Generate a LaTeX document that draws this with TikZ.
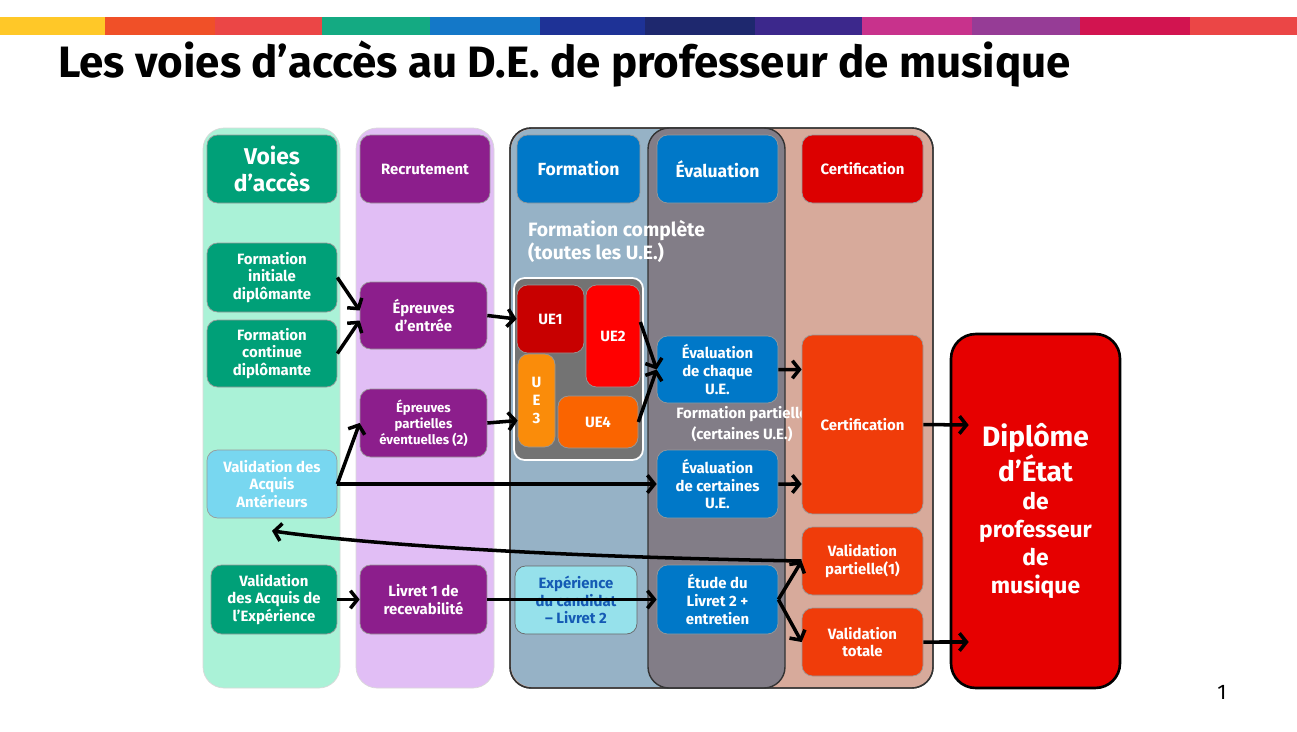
\documentclass[tikz,border=0pt]{standalone}
\usepackage{fontspec}
\setmainfont{Fira Sans}
\usetikzlibrary{arrows.meta}
\definecolor{voies}{RGB}{0, 160, 120}
\definecolor{recru}{RGB}{140, 30, 140}
\definecolor{forma}{RGB}{0, 120, 200}
\definecolor{certi}{RGB}{220, 0, 0}
\definecolor{orcert}{RGB}{240, 60, 10}
\tikzset{
    box/.style = {draw = black!40, rounded corners = 6pt, text = white, align = center,
        font = \bfseries\fontsize{8.5}{10}\selectfont, inner sep = 1pt},
    arr/.style = {line width = 2pt, -{Straight Barb[length = 4pt, width = 10pt, line width = 2pt]}},
    column/.style = {rounded corners = 12pt}
}
\begin{document}
\begin{tikzpicture}[x = 0.02cm, y = -0.02cm]
    \useasboundingbox (0,0) rectangle (1297,731);
    \fill[white] (0,0) rectangle (1297,731);

    % bandeau de couleurs
    \foreach \xa/\xb/\col in {0/105/{255,200,40}, 105/215/{240,80,40}, 215/322/{235,70,70},
        322/430/{20,170,130}, 430/540/{20,120,200}, 540/645/{30,50,150}, 645/755/{30,40,110},
        755/862/{60,40,140}, 862/972/{200,50,140}, 972/1080/{150,60,150}, 1080/1190/{210,20,80},
        1190/1297/{235,70,70}}
    {
        \definecolor{band}{RGB}{\col}
        \fill[band] (\xa,17) rectangle (\xb,35);
    }
    \node[anchor = west, font = \bfseries\fontsize{25}{30}\selectfont] (titre) at (52,64)
        {Les voies d’accès au D.E. de professeur de musique};
    \node[font = \fontsize{12}{14}\selectfont] (page) at (1222,692) {1};

    % colonnes
    \fill[column, fill = {rgb,255:red,170;green,242;blue,215}, draw = black!15] (203,128) rectangle (340,688);
    \fill[column, fill = {rgb,255:red,225;green,190;blue,245}, draw = black!15] (356,128) rectangle (494,688);
    \filldraw[column, fill = {rgb,255:red,215;green,170;blue,155}, draw = black!80, thick] (510,128) rectangle (933,688);
    \fill[column, fill = {rgb,255:red,150;green,178;blue,198}] (511,129) rectangle (785,687);
    \filldraw[column, fill = {rgb,255:red,130;green,125;blue,135}, draw = black!80, thick] (648,128) rectangle (785,688);
    \draw[column, draw = black!80, thick] (510,128) rectangle (933,688);

    % en-tetes
    \node[box, fill = voies, minimum width = 2.6cm, minimum height = 1.36cm,
        font = \bfseries\fontsize{13}{15}\selectfont] (hVoies) at (272,169) {Voies\\d’accès};
    \node[box, fill = recru, minimum width = 2.6cm, minimum height = 1.36cm] (hRecru) at (425,169) {Recrutement};
    \node[box, fill = forma, minimum width = 2.46cm, minimum height = 1.36cm,
        font = \bfseries\fontsize{10}{12}\selectfont] (hForma) at (578.5,169) {Formation};
    \node[box, fill = forma, minimum width = 2.42cm, minimum height = 1.36cm,
        font = \bfseries\fontsize{10}{12}\selectfont] (hEval) at (717.5,169) {Évaluation};
    \node[box, fill = certi, minimum width = 2.42cm, minimum height = 1.36cm] (hCerti) at (862.5,169) {Certification};

    % voies d'acces
    \node[box, fill = voies, minimum width = 2.6cm, minimum height = 1.38cm] (initiale) at (272,277.5) {Formation\\initiale\\diplômante};
    \node[box, fill = voies, minimum width = 2.6cm, minimum height = 1.34cm] (continue) at (272,353.5) {Formation\\continue\\diplômante};
    \node[box, fill = {rgb,255:red,120;green,215;blue,240}, minimum width = 2.6cm, minimum height = 1.36cm] (vaa) at (272,484) {Validation des\\Acquis\\Antérieurs};
    \node[box, fill = voies, minimum width = 2.52cm, minimum height = 1.38cm] (vae) at (274,599.5) {Validation\\des Acquis de\\l’Expérience};

    % recrutement
    \node[box, fill = recru, minimum width = 2.54cm, minimum height = 1.34cm] (entree) at (423.5,315.5) {Épreuves\\d’entrée};
    \node[box, fill = recru, minimum width = 2.54cm, minimum height = 1.36cm,
        font = \bfseries\fontsize{7.5}{9}\selectfont] (partielles) at (423.5,423) {Épreuves\\partielles\\éventuelles (2)};
    \node[box, fill = recru, minimum width = 2.54cm, minimum height = 1.38cm] (livret1) at (423.5,599.5) {Livret 1 de\\recevabilité};

    % formation
    \node[anchor = north west, align = left, text = white, font = \bfseries\fontsize{11}{13}\selectfont] (complete) at (522,214)
        {Formation complète\\(toutes les U.E.)};
    \node[box, fill = black!55, draw = white, line width = 1pt, minimum width = 2.58cm, minimum height = 3.64cm] (ueBox) at (578.5,369) {};
    \node[box, fill = {rgb,255:red,200;green,0;blue,0}, minimum width = 1.34cm, minimum height = 1.36cm] (ue1) at (550.5,319) {UE1};
    \node[box, fill = red, minimum width = 1.08cm, minimum height = 2.04cm] (ue2) at (613,336) {UE2};
    \node[box, fill = {rgb,255:red,250;green,140;blue,10}, minimum width = 0.74cm, minimum height = 1.86cm] (ue3) at (536.5,400.5) {U\\E\\3};
    \node[box, fill = {rgb,255:red,250;green,100;blue,0}, minimum width = 1.6cm, minimum height = 1.04cm] (ue4) at (598,422) {UE4};
    \node[box, fill = {rgb,255:red,150;green,225;blue,235}, draw = black!60, text = {rgb,255:red,20;green,90;blue,180},
        minimum width = 2.44cm, minimum height = 1.36cm] (experience) at (576,600) {Expérience\\du candidat\\– Livret 2};

    % evaluation
    \node[box, fill = forma, minimum width = 2.42cm, minimum height = 1.34cm] (evChaque) at (717.5,369.5) {Évaluation\\de chaque\\U.E.};
    \node[text = white, align = center, font = \bfseries\fontsize{8.5}{12}\selectfont] (partielle) at (742,424) {Formation partielle\\(certaines U.E.)};
    \node[box, fill = forma, minimum width = 2.42cm, minimum height = 1.36cm] (evCertaines) at (717.5,484) {Évaluation\\de certaines\\U.E.};
    \node[box, fill = forma, minimum width = 2.42cm, minimum height = 1.38cm] (etude) at (717.5,599.5) {Étude du\\Livret 2 +\\entretien};

    % certification
    \node[box, fill = orcert, minimum width = 2.42cm, minimum height = 3.58cm] (certif) at (862.5,424.5) {Certification};
    \node[box, fill = orcert, minimum width = 2.42cm, minimum height = 1.36cm] (valPartielle) at (862.5,561) {Validation\\partielle(1)};
    \node[box, fill = orcert, minimum width = 2.42cm, minimum height = 1.36cm] (valTotale) at (862.5,642) {Validation\\totale};
    \node[box, fill = {rgb,255:red,230;green,0;blue,0}, draw = black, line width = 1.5pt, rounded corners = 14pt,
        minimum width = 3.38cm, minimum height = 7.08cm, font = \bfseries\fontsize{13}{16}\selectfont] (diplome) at (1035.5,511)
        {{\fontsize{16}{19}\selectfont Diplôme}\\{\fontsize{16}{19}\selectfont d’État}\\de\\professeur\\de\\musique};

    % fleches
    \draw[arr] (initiale.east) -- ([yshift = 0.1cm]entree.west);
    \draw[arr] (continue.east) -- ([yshift = -0.1cm]entree.west);
    \draw[arr] (entree.east) -- (ue1.west);
    \draw[arr] (partielles.east) -- ([yshift = -0.4cm]ue3.west);
    \draw[arr] (vaa.east) -- (partielles.west);
    \draw[arr] (vaa.east) -- (evCertaines.west);
    \draw[arr] ([yshift = 0.28cm]ue2.east) -- (evChaque.west);
    \draw[arr] (ue4.east) -- (evChaque.west);
    \draw[arr] (evChaque.east) -- ([yshift = 1.1cm]certif.west);
    \draw[arr] (evCertaines.east) -- ([yshift = -1.19cm]certif.west);
    \draw[arr] (certif.east) -- ([xshift = 0.38cm, yshift = 1.72cm]diplome.west);
    \draw[arr] (valPartielle.west) .. controls (450,555) and (300,535) .. ([yshift = -0.25cm]vaa.south);
    \draw[arr] (vae.east) -- (livret1.west);
    \draw[arr] (livret1.east) -- (etude.west);
    \draw[arr] (etude.east) -- (valPartielle.west);
    \draw[arr] (etude.east) -- (valTotale.west);
    \draw[arr] (valTotale.east) -- ([xshift = 0.38cm, yshift = -2.62cm]diplome.west);
\end{tikzpicture}
\end{document}
